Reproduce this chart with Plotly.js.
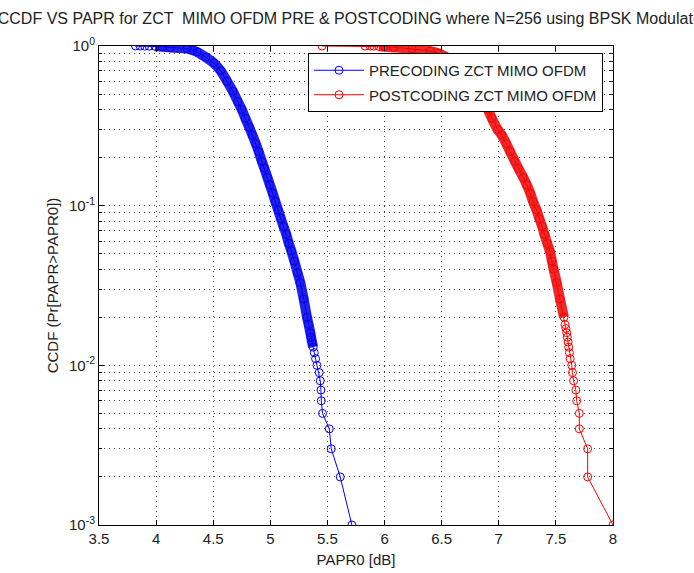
<!DOCTYPE html>
<html>
<head>
<meta charset="utf-8">
<script src="https://cdn.plot.ly/plotly-3.0.1.min.js"></script>
<style>html,body{margin:0;padding:0;background:#fff;}#chart{width:694px;height:573px;}</style>
</head>
<body>
<div id="chart"></div>
<script>
// CCDF levels and PAPR0 values
var preCcdf = [1.0, 0.999, 0.998, 0.997, 0.995, 0.99, 0.98, 0.962, 0.94, 0.917, 0.85, 0.783, 0.7, 0.601, 0.52, 0.448, 0.4, 0.353, 0.31, 0.277, 0.245, 0.218, 0.19, 0.172, 0.15, 0.135, 0.12, 0.106, 0.094, 0.083, 0.074, 0.066, 0.058, 0.052, 0.045, 0.038, 0.033, 0.026, 0.02, 0.018, 0.016, 0.015, 0.014, 0.013, 0.012, 0.011, 0.01, 0.009, 0.008, 0.007, 0.006, 0.005, 0.004, 0.003, 0.002, 0.001];
var prePapr = [3.82, 3.86, 3.90, 3.94, 3.99, 4.05, 4.125, 4.271, 4.32, 4.359, 4.435, 4.504, 4.565, 4.621, 4.672, 4.716, 4.75, 4.781, 4.815, 4.843, 4.872, 4.898, 4.925, 4.947, 4.975, 4.996, 5.02, 5.044, 5.068, 5.092, 5.116, 5.14, 5.162, 5.184, 5.21, 5.238, 5.262, 5.292, 5.321, 5.335, 5.35, 5.357, 5.365, 5.375, 5.385, 5.396, 5.408, 5.428, 5.437, 5.443, 5.446, 5.457, 5.516, 5.533, 5.612, 5.714];

var postCcdf = [1.0, 0.999, 0.998, 0.997, 0.995, 0.99, 0.98, 0.96, 0.93, 0.9, 0.86, 0.82, 0.77, 0.72, 0.66, 0.6, 0.55, 0.5, 0.45, 0.4, 0.353, 0.3, 0.277, 0.245, 0.218, 0.19, 0.171, 0.15, 0.135, 0.12, 0.106, 0.094, 0.083, 0.074, 0.066, 0.058, 0.0515, 0.045, 0.04, 0.033, 0.026, 0.02, 0.018, 0.017, 0.016, 0.015, 0.014, 0.013, 0.012, 0.011, 0.01, 0.009, 0.008, 0.007, 0.006, 0.005, 0.004, 0.003, 0.002, 0.001];
var postPapr = [5.452, 5.83, 5.875, 5.905, 5.95, 6.00, 6.08, 6.24, 6.40, 6.47, 6.53, 6.58, 6.63, 6.68, 6.73, 6.77, 6.81, 6.84, 6.875, 6.905, 6.939, 6.99, 7.026, 7.065, 7.099, 7.14, 7.172, 7.215, 7.245, 7.275, 7.30, 7.33, 7.355, 7.38, 7.40, 7.425, 7.449, 7.465, 7.48, 7.507, 7.536, 7.571, 7.58, 7.588, 7.595, 7.60, 7.607, 7.612, 7.618, 7.625, 7.639, 7.645, 7.655, 7.675, 7.682, 7.705, 7.705, 7.778, 7.778, 8.0];

var seriesNames = ['PRECODING ZCT MIMO OFDM', 'POSTCODING ZCT MIMO OFDM'];
var xTicks = [3.5, 4, 4.5, 5, 5.5, 6, 6.5, 7, 7.5, 8];
var xTickText = ['3.5', '4', '4.5', '5', '5.5', '6', '6.5', '7', '7.5', '8'];
var yTicks = [0.001, 0.01, 0.1, 1];
var yTickText = ['10<sup>-3</sup>', '10<sup>-2</sup>', '10<sup>-1</sup>', '10<sup>0</sup>'];
var yMinor = [0.002,0.003,0.004,0.005,0.006,0.007,0.008,0.009,0.02,0.03,0.04,0.05,0.06,0.07,0.08,0.09,0.2,0.3,0.4,0.5,0.6,0.7,0.8,0.9];

var FONT = 'Liberation Sans, Arial, sans-serif';

// dense overlapping-marker band: the same readings drawn with a wide stroke
function bandPart(xs, ys, yMin) {
  var bx = [], by = [];
  for (var i = 0; i < ys.length; i++) {
    if (ys[i] <= 0.996 && ys[i] >= yMin) { bx.push(xs[i]); by.push(ys[i]); }
  }
  return {x: bx, y: by};
}
var preBand = bandPart(prePapr, preCcdf, 0.013);
var postBand = bandPart(postPapr, postCcdf, 0.02);

var traces = [
  {x: preBand.x, y: preBand.y, mode: 'lines', line: {color: '#2323e6', width: 10, shape: 'spline', smoothing: 0.6}, showlegend: false, hoverinfo: 'skip'},
  {x: postBand.x, y: postBand.y, mode: 'lines', line: {color: '#ee2b2b', width: 10, shape: 'spline', smoothing: 0.6}, showlegend: false, hoverinfo: 'skip'},
  {x: prePapr, y: preCcdf, name: seriesNames[0], legendgroup: 'a', mode: 'lines+markers',
   line: {color: '#0000ff', width: 1}, marker: {symbol: 'circle-open', size: 8, color: '#0000ff', line: {width: 1}}},
  {x: postPapr, y: postCcdf, name: seriesNames[1], legendgroup: 'b', mode: 'lines+markers',
   line: {color: '#ff0000', width: 1}, marker: {symbol: 'circle-open', size: 8, color: '#ff0000', line: {width: 1}}}
];

var gridStyle = {gridcolor: '#444', gridwidth: 1, griddash: '1px,4px'};

var layout = {
  width: 694, height: 573,
  paper_bgcolor: '#fff', plot_bgcolor: '#fff',
  margin: {l: 99, r: 81, t: 46, b: 48},
  font: {family: FONT, color: '#222', size: 15},
  title: {text: 'CCDF VS PAPR for ZCT  MIMO OFDM PRE &amp; POSTCODING where N=256 using BPSK Modulation',
          font: {family: FONT, size: 16, color: '#222'}, xref: 'paper', x: 0.5, xanchor: 'center',
          yref: 'container', y: 0.968, yanchor: 'middle'},
  xaxis: Object.assign({
    range: [3.5, 8], tickmode: 'array', tickvals: xTicks, ticktext: xTickText,
    ticks: 'inside', ticklen: 5, tickcolor: '#000', mirror: 'allticks', showline: true, linecolor: '#000', linewidth: 1,
    showgrid: true, zeroline: false, tickfont: {size: 15},
    title: {text: 'PAPR0 [dB]', font: {size: 15}, standoff: 8}, automargin: false
  }, gridStyle),
  yaxis: Object.assign({
    type: 'log', range: [-3, 0], tickmode: 'array', tickvals: yTicks, ticktext: yTickText,
    ticks: 'inside', ticklen: 5, tickcolor: '#000', mirror: 'allticks', showline: true, linecolor: '#000', linewidth: 1,
    showgrid: true, zeroline: false, tickfont: {size: 15},
    minor: {tickmode: 'array', tickvals: yMinor, ticks: 'inside', ticklen: 3, tickcolor: '#000',
            showgrid: true, gridcolor: '#444', gridwidth: 1, griddash: '1px,4px'},
    title: {text: 'CCDF (Pr[PAPR&gt;PAPR0])', font: {size: 15}, standoff: 6}, automargin: false
  }, gridStyle),
  legend: {x: 0.4066, xanchor: 'left', y: 0.9854, yanchor: 'top', bgcolor: '#fff', bordercolor: '#000', borderwidth: 1,
           font: {size: 15, color: '#222'}, itemwidth: 50, traceorder: 'grouped', tracegroupgap: 2},
  showlegend: true
};

Plotly.newPlot('chart', traces, layout, {displayModeBar: false, staticPlot: true});
</script>
</body>
</html>
